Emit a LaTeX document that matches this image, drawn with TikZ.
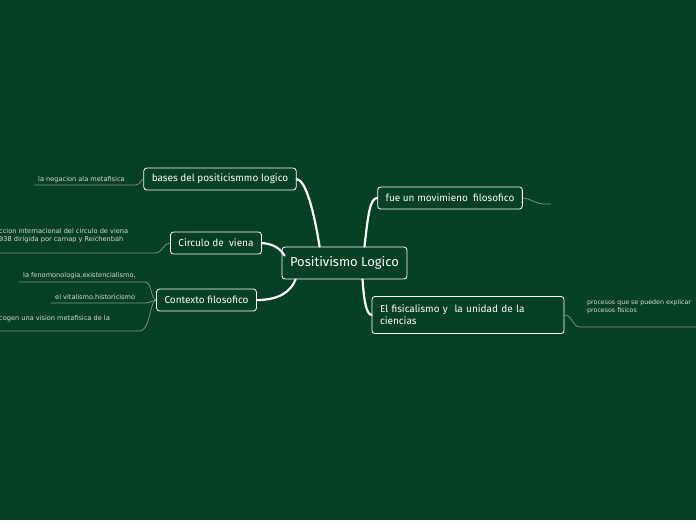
\documentclass[tikz,border=0pt]{standalone}
\usepackage{fontspec}
\setmainfont{Fira Sans}
\newfontfamily\leaffont{DejaVu Sans}
\definecolor{mapgreen}{RGB}{5,64,34}
\definecolor{leafgray}{RGB}{215,222,216}
\definecolor{leafline}{RGB}{125,155,135}
\tikzset{
  topic/.style={draw=white,line width=0.8pt,rounded corners=3pt,fill=mapgreen,text=white,
    inner xsep=8pt,minimum height=22pt,font=\fontsize{10}{12}\selectfont},
  rootbox/.style={topic,minimum height=32pt,font=\fontsize{13}{15}\selectfont},
  leaf/.style={text=leafgray,font=\leaffont\fontsize{6.6}{7.6}\selectfont,align=left,inner sep=0pt},
  branch/.style={draw=white,line width=2.2pt,line cap=round},
  twig/.style={draw=leafline,line width=0.7pt}
}
\begin{document}
\begin{tikzpicture}[x=1pt,y=-1pt]
  \fill[mapgreen] (0,0) rectangle (696,520);
  \useasboundingbox (0,0) rectangle (696,520);
  % main topic and branches
  \node[rootbox,minimum width=125pt] (pos) at (344.5,263) {Positivismo Logico};
  \node[topic,minimum width=146pt] (bases) at (220,179) {bases del positicismmo logico};
  \node[topic,minimum width=88pt] (circ) at (216,243) {Circulo de\ \ viena};
  \node[topic,minimum width=95pt] (ctx) at (206.5,300) {Contexto filosofico};
  \node[topic,minimum width=140pt] (fue) at (450,198) {fue un movimieno\ \ filosofico};
  \node[topic,text width=176pt,align=left,minimum height=37pt] (fis) at (468,315)
    {El fisicalismo y\ \ la unidad de la\\ciencias};
  \draw[branch] (pos.north west) ++(38,0) .. controls (314,212) and (306,180) .. (bases.east);
  \draw[branch] (circ.east) .. controls (273,244) and (280,248) .. ([shift={(3,9)}]pos.north west);
  \draw[branch] (ctx.east) .. controls (280,300) and (291,291) .. ([xshift=14pt]pos.south west);
  \draw[branch] (pos.north) ++(20,0) .. controls (368,215) and (370,198) .. (fue.west);
  \draw[branch] (pos.south) ++(18,0) .. controls (364,300) and (366,314) .. (fis.west);
  % leaves
  \node[leaf,anchor=base west] (negtxt) at (38,181) {la negacion ala metafisica};
  \coordinate (nega) at (34,185);
  \coordinate (negb) at (135,185);
  \draw[twig] (nega) -- (negb) .. controls (141,185) and (141,179) .. (bases.west);
  \node[leaf,anchor=base west] (circtxt) at (-1,241.5)
    {ccion internacional del circulo de viena\\938 dirigida por carnap y Reichenbah};
  \coordinate (circa) at (0,253);
  \coordinate (circb) at (155,253);
  \draw[twig] (circa) -- (circb) .. controls (163,253) and (163,243) .. (circ.west);
  \node[leaf,anchor=base west] (fentxt) at (23,277.5) {la fenomonologia,existencialismo,};
  \coordinate (fena) at (19,282);
  \coordinate (fenb) at (145,282);
  \draw[twig] (fena) -- (fenb) .. controls (152,282) and (151,300) .. (ctx.west);
  \node[leaf,anchor=base west] (vittxt) at (55,299) {el vitalismo.historicismo};
  \coordinate (vita) at (51,303);
  \coordinate (vitb) at (145,303);
  \draw[twig] (vita) -- (vitb) .. controls (151,303) and (152,300) .. (ctx.west);
  \node[leaf,anchor=base west] (cogtxt) at (-1,320) {cogen una vision metafisica de la};
  \coordinate (coga) at (0,331);
  \coordinate (cogb) at (140,331);
  \draw[twig] (coga) -- (cogb) .. controls (150,331) and (150,300) .. (ctx.west);
  \coordinate (fuea) at (545,204);
  \coordinate (fueb) at (551,204);
  \draw[twig] (fue.east) .. controls (530,198) and (535,204) .. (fuea) -- (fueb);
  \node[leaf,anchor=base west,font=\leaffont\fontsize{6.3}{7.6}\selectfont] (proctxt) at (587,312.5)
    {procesos que se pueden explicar\\procesos fisicos};
  \coordinate (proca) at (580,327);
  \coordinate (procb) at (696,327);
  \draw[twig] (fis.east) .. controls (573,315) and (572,327) .. (proca) -- (procb);
\end{tikzpicture}
\end{document}
